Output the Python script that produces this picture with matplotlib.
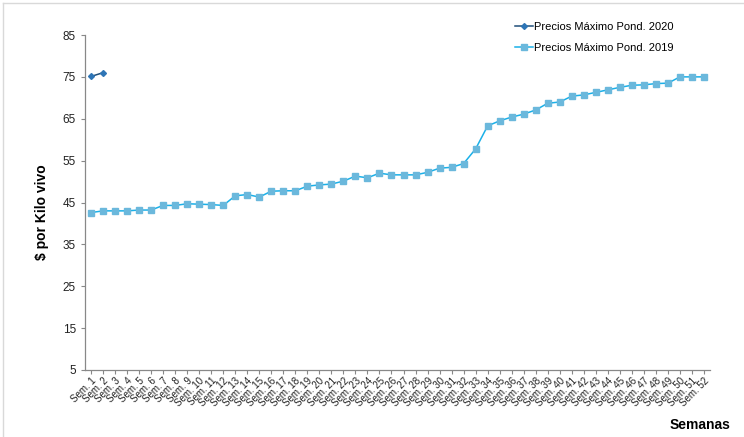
import matplotlib
matplotlib.use("Agg")
import matplotlib.pyplot as plt

plt.rcParams["font.family"] = ["Liberation Sans", "DejaVu Sans"]

weeks = [f"Sem. {i}" for i in range(1, 53)]
precios_2019 = [42.6, 43.0, 43.0, 43.0, 43.2, 43.2, 44.3, 44.3, 44.7, 44.6,
                44.5, 44.3, 46.6, 46.9, 46.3, 47.7, 47.8, 47.8, 48.9, 49.2,
                49.4, 50.1, 51.3, 50.9, 52.0, 51.6, 51.6, 51.6, 52.2, 53.2,
                53.4, 54.3, 57.8, 63.3, 64.5, 65.4, 66.1, 67.1, 68.7, 69.0,
                70.4, 70.7, 71.3, 71.9, 72.5, 73.0, 73.1, 73.4, 73.5, 75.0,
                75.0, 75.0]
precios_2020 = [75.1, 76.0]
yticks = [5, 15, 25, 35, 45, 55, 65, 75, 85]

fig = plt.figure(figsize=(7.44, 4.37), dpi=100)
ax = fig.add_axes([85/744, 1-370/437, 625/744, 335/437])

x19 = list(range(len(precios_2019)))
x20 = list(range(len(precios_2020)))
ax.plot(x20, precios_2020, color="#1F4E79", lw=1.1, marker="D", ms=3,
        mfc="#2E75B6", mec="#2E75B6", label="Precios Máximo Pond. 2020")
ax.plot(x19, precios_2019, color="#1AB0E8", lw=1.1, marker="s", ms=4.2,
        mfc="#6BB8DC", mec="#6BB8DC", label="Precios Máximo Pond. 2019")

ax.set_xlim(-0.5, len(weeks) - 0.5)
ax.set_ylim(5, 85)
ax.set_yticks(yticks)
ax.set_yticklabels([str(v) for v in yticks], fontsize=8.5, color="#222222")
ax.set_xticks(range(len(weeks)))
ax.set_xticklabels(weeks, rotation=45, ha="right", va="top", fontsize=7,
                   rotation_mode="anchor", color="#222222")
ax.tick_params(axis="both", direction="out", length=3, color="#888888", width=0.8)
ax.tick_params(axis="x", pad=1)

for s in ["top", "right"]:
    ax.spines[s].set_visible(False)
for s in ["left", "bottom"]:
    ax.spines[s].set_color("#888888")
    ax.spines[s].set_linewidth(0.9)

ax.legend(loc="upper left", bbox_to_anchor=(505/744, 1-12/437),
          bbox_transform=fig.transFigure, frameon=False, fontsize=8,
          handlelength=1.6, handletextpad=0.1, labelspacing=1.0)

fig.text(42/744, 1-212/437, "$ por Kilo vivo", rotation=90, ha="center",
         va="center", fontsize=10, fontweight="bold")
fig.text(730/744, 1-425/437, "Semanas", ha="right", va="center",
         fontsize=10, fontweight="bold")

# light frame lines on the left and top
fig.add_artist(plt.Line2D([3/744, 3/744], [1-3/437, 0], color="#d9d9d9", lw=1,
                          transform=fig.transFigure))
fig.add_artist(plt.Line2D([3/744, 1], [1-3/437, 1-3/437], color="#d9d9d9", lw=1,
                          transform=fig.transFigure))

fig.savefig("out.png", dpi=100)
